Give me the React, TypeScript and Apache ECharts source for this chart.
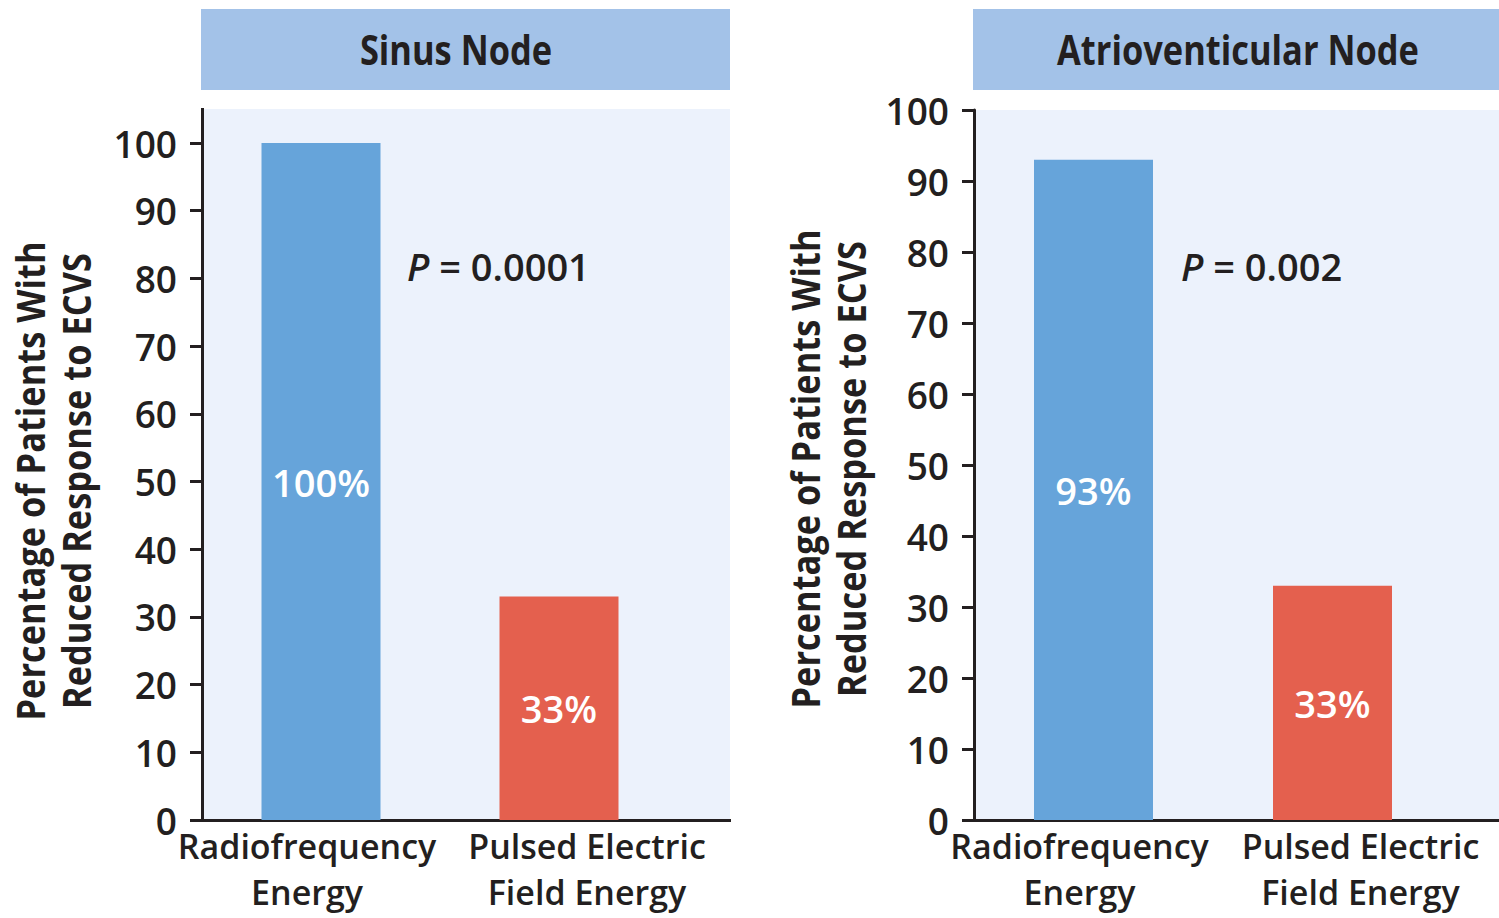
import React, { useEffect, useRef } from "react";
import * as echarts from "echarts";

const categories = ["Radiofrequency\nEnergy", "Pulsed Electric\nField Energy"];
const sinusValues = [100, 33];
const avValues = [93, 33];
const panelTitles = ["Sinus Node", "Atrioventicular Node"];
const pValues = ["0.0001", "0.002"];
const yAxisTitle = ["Percentage of Patients With", "Reduced Response to ECVS"];
const barColors = ["#66a4da", "#e4604e"];

const FONT = "'Open Sans', sans-serif";
const INK = "#231f20";
const W = 600;

export default function App() {
  const ref = useRef<HTMLDivElement>(null);
  useEffect(() => {
    if (!ref.current) return;
    const chart = echarts.init(ref.current, undefined, { renderer: "svg" });

    const xAxisCommon = (gridIndex: number) => ({
      type: "category",
      gridIndex,
      data: categories,
      axisLine: { show: true, lineStyle: { color: INK, width: 3 } },
      axisTick: { show: false },
      axisLabel: {
        margin: 3,
        interval: 0,
        color: INK,
        fontFamily: FONT,
        fontSize: 34,
        fontWeight: W,
        lineHeight: 46,
        formatter: (value: string, index: number) =>
          value
            .split("\n")
            .map((l) => `{${index === 0 ? "a" : "b"}|${l}}`)
            .join("\n"),
        rich: {
          a: { fontFamily: FONT, fontSize: 34, fontWeight: W, lineHeight: 46, color: INK, padding: [0, 28, 0, 0] },
          b: { fontFamily: FONT, fontSize: 34, fontWeight: W, lineHeight: 46, color: INK, padding: [0, 0, 0, 56] },
        },
      },
    });

    const yAxisCommon = (gridIndex: number) => ({
      type: "value",
      gridIndex,
      min: 0,
      max: 100,
      interval: 10,
      splitLine: { show: false },
      axisLine: { show: true, lineStyle: { color: INK, width: 3 } },
      axisTick: { show: true, length: 12, lineStyle: { color: INK, width: 3 } },
      axisLabel: { margin: 25, color: INK, fontFamily: FONT, fontSize: 37, fontWeight: W },
    });

    const barSeries = (idx: number, values: number[]) => ({
      type: "bar",
      xAxisIndex: idx,
      yAxisIndex: idx,
      barWidth: 119,
      data: values.map((v, i) => ({ value: v, itemStyle: { color: barColors[i] } })),
      label: {
        show: true,
        position: "inside",
        formatter: "{c}%",
        color: "#ffffff",
        fontFamily: FONT,
        fontSize: 38,
        fontWeight: W,
      },
    });

    const titleBox = (x: number, w: number, cx: number, text: string) => [
      { type: "rect", z: -10, shape: { x, y: 9, width: w, height: 81 }, style: { fill: "#a3c2e8" } },
      {
        type: "text",
        x: cx,
        y: 49,
        scaleX: 0.82,
        style: {
          text,
          fill: INK,
          font: `bold 42px ${FONT}`,
          align: "center",
          verticalAlign: "middle",
        },
      },
    ];

    const axisName = (cx: number, cy: number) => ({
      type: "text",
      x: cx,
      y: cy,
      rotation: Math.PI / 2,
      scaleX: 0.86,
      style: {
        text: yAxisTitle.join("\n"),
        fill: INK,
        font: `bold 40px ${FONT}`,
        lineHeight: 46,
        align: "center",
        verticalAlign: "middle",
      },
    });

    const pText = (x: number, val: string) => ({
      type: "text",
      x,
      y: 266,
      style: {
        text: `{i|P} = ${val}`,
        fill: INK,
        font: `${W} 38px ${FONT}`,
        align: "left",
        verticalAlign: "middle",
        rich: {
          i: { fontStyle: "italic", fontWeight: W, fontFamily: FONT, fontSize: 38, fill: INK },
        },
      },
    });

    chart.setOption({
      animation: false,
      backgroundColor: "#ffffff",
      grid: [
        { left: 202, top: 143, width: 476, height: 677 },
        { left: 974, top: 110, width: 478, height: 710 },
      ],
      xAxis: [xAxisCommon(0), xAxisCommon(1)],
      yAxis: [yAxisCommon(0), yAxisCommon(1)],
      series: [barSeries(0, sinusValues), barSeries(1, avValues)],
      graphic: [
        { type: "rect", z: -20, shape: { x: 202, y: 109, width: 528, height: 711 }, style: { fill: "#ecf2fc" } },
        { type: "rect", z: -20, shape: { x: 974, y: 110, width: 525, height: 710 }, style: { fill: "#ecf2fc" } },
        { type: "line", shape: { x1: 202.5, y1: 108, x2: 202.5, y2: 150 }, style: { stroke: INK, lineWidth: 3 } },
        { type: "line", shape: { x1: 640, y1: 820.5, x2: 731, y2: 820.5 }, style: { stroke: INK, lineWidth: 3 } },
        { type: "line", shape: { x1: 1420, y1: 820.5, x2: 1499, y2: 820.5 }, style: { stroke: INK, lineWidth: 3 } },
        ...titleBox(201, 529, 456, panelTitles[0]),
        ...titleBox(973, 526, 1238, panelTitles[1]),
        axisName(52, 481),
        axisName(827, 469),
        pText(407, pValues[0]),
        pText(1181, pValues[1]),
      ],
    });
    return () => chart.dispose();
  }, []);
  return (
    <div
      ref={ref}
      style={{ position: "fixed", left: 0, top: 0, width: 1499, height: 918, background: "#fff" }}
    />
  );
}
